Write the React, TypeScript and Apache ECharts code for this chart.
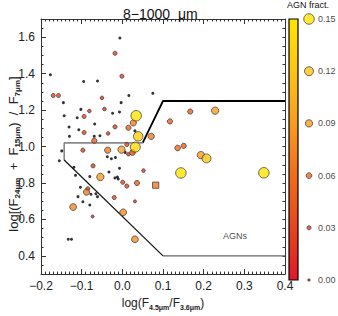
import React, { useEffect, useRef } from "react";
import * as echarts from "echarts";

const FONT = "'Liberation Sans', Arial, Helvetica, sans-serif";

// log(F4.5/F3.6), log((F24+F15)/F7) for sources with AGN fraction = 0
const noAgnPoints: [number, number][] = [
  [-0.177, 1.394], [-0.006, 1.596], [-0.095, 1.357], [-0.061, 1.36], [0.075, 1.292],
  [0.016, 1.28], [-0.145, 1.241], [-0.003, 1.241], [-0.102, 1.204], [-0.024, 1.183],
  [-0.007, 1.19], [-0.143, 1.169], [-0.111, 1.158], [-0.131, 1.107], [-0.068, 1.124],
  [-0.107, 1.092], [0.031, 1.086], [-0.13, 1.056], [-0.069, 1.056], [-0.055, 1.059],
  [-0.149, 0.976], [-0.037, 0.944], [-0.027, 0.933], [-0.017, 0.94], [0.007, 0.968],
  [-0.155, 0.922], [-0.119, 0.886], [-0.033, 0.86], [-0.007, 0.881], [-0.115, 0.842],
  [-0.08, 0.836], [-0.018, 0.828], [-0.012, 0.833], [-0.01, 0.822], [-0.103, 0.777],
  [-0.077, 0.738], [-0.065, 0.741], [-0.061, 0.725], [-0.109, 0.725], [-0.097, 0.697],
  [-0.08, 0.679], [-0.133, 0.491], [-0.125, 0.491],
];

// [x, y, AGN fraction]
const agnPoints: [number, number, number][] = [
  [-0.018, 1.512, 0.03], [-0.001, 1.386, 0.03], [-0.17, 1.28, 0.03], [-0.157, 1.28, 0.03],
  [-0.05, 1.267, 0.02], [-0.094, 1.165, 0.03], [-0.081, 1.195, 0.02], [-0.044, 1.206, 0.02],
  [-0.018, 1.108, 0.03], [-0.094, 1.077, 0.03], [-0.035, 1.072, 0.02], [0.011, 1.011, 0.03],
  [-0.097, 0.98, 0.03], [0.026, 0.973, 0.03], [0.015, 0.958, 0.02], [-0.072, 0.894, 0.03],
  [0.052, 0.868, 0.02], [0.001, 0.804, 0.03], [0.011, 0.783, 0.03], [-0.085, 0.768, 0.03],
  [-0.02, 0.72, 0.03], [0.031, 0.699, 0.01], [-0.073, 0.616, 0.01],
  [0.027, 1.13, 0.07], [0.015, 1.103, 0.05], [-0.069, 1.032, 0.05], [0.071, 1.056, 0.07],
  [0.117, 1.138, 0.05], [0.167, 1.192, 0.05], [0.228, 1.197, 0.09], [-0.036, 0.98, 0.07],
  [-0.002, 0.983, 0.09], [0.025, 0.967, 0.06], [0.136, 0.992, 0.06], [0.151, 1.004, 0.05],
  [0.193, 0.953, 0.09], [-0.054, 0.833, 0.09], [0.036, 0.8, 0.05], [-0.088, 0.75, 0.07],
  [-0.121, 0.668, 0.08], [0.002, 0.639, 0.08], [0.031, 0.491, 0.08],
  [0.034, 1.169, 0.15], [0.039, 1.056, 0.13], [0.032, 0.997, 0.14], [0.207, 0.935, 0.12],
  [0.144, 0.855, 0.15], [0.348, 0.856, 0.15],
];

const squarePoints: [number, number, number][] = [[0.082, 0.788, 0.07]];

const legendFractions = [0, 0.03, 0.06, 0.09, 0.12, 0.15];
const fractionColors = ["#e0182a", "#e8441e", "#f06c1c", "#f89c20", "#fcc414", "#ffe400"];

const agnWedge: [number, number][] = [[0.4, 1.25], [0.1, 1.25], [0.05, 1.02]];
const grayBox: [number, number][] = [[0.05, 1.02], [-0.143, 1.02], [-0.143, 0.926]];
const diagLine: [number, number][] = [[-0.143, 0.926], [0.1, 0.4]];
const bottomLine: [number, number][] = [[0.1, 0.4], [0.4, 0.4]];

const yLabelValues = [0.4, 0.6, 0.8, 1.0, 1.2, 1.4, 1.6];
const agnLabel: [number, number][] = [[0.277, 0.511]];

const fmt = (v: number) => (v < 0 ? "\u2212" + Math.abs(v).toFixed(1) : v.toFixed(1));

export default function App() {
  const ref = useRef<HTMLDivElement>(null);
  useEffect(() => {
    if (!ref.current) return;
    const chart = echarts.init(ref.current, undefined, { renderer: "svg" });
    const tickCommon = { lineStyle: { color: "#333", width: 1 } };
    const sorted = [...agnPoints].sort((a, b) => a[2] - b[2]);
    const richX = {
      n: { fontSize: 12, lineHeight: 16, color: "#222", fontFamily: FONT },
      s: { fontSize: 7, lineHeight: 8, verticalAlign: "bottom", color: "#222", fontFamily: FONT, fontWeight: "bold" },
    };
    const richY = {
      n: { fontSize: 13, lineHeight: 17, fill: "#222", color: "#222", fontFamily: FONT },
      s: { fontSize: 8, lineHeight: 8, verticalAlign: "bottom", fill: "#222", color: "#222", fontFamily: FONT, fontWeight: "bold" },
    };
    const option: any = {
      animation: false,
      backgroundColor: "#fff",
      textStyle: { fontFamily: FONT },
      title: {
        text: "8\u22121000  \u03bcm",
        left: 118,
        top: 2,
        textStyle: { fontFamily: FONT, fontSize: 14, fontWeight: "normal", color: "#111" },
      },
      grid: [
        { left: 41, right: 53, top: 19, bottom: 36 },
        { left: 300, width: 18, top: 19, height: 261 },
      ],
      visualMap: {
        type: "continuous",
        show: false,
        min: 0,
        max: 0.15,
        dimension: 2,
        seriesIndex: [5, 6, 7],
        inRange: { color: fractionColors, symbolSize: [2.5, 10.5] },
      },
      xAxis: [
        {
          gridIndex: 0, type: "value", min: -0.2, max: 0.4, interval: 0.1, position: "bottom",
          axisLine: { onZero: false, lineStyle: { color: "#333", width: 1 } },
          axisTick: { inside: true, length: 5, ...tickCommon },
          minorTick: { show: true, splitNumber: 10, length: 2.5, ...tickCommon },
          splitLine: { show: false },
          axisLabel: { formatter: fmt, fontSize: 12, color: "#222", margin: 6, fontFamily: FONT },
          name: "{n|log(F}{s|4.5\u03bcm}{n|/F}{s|3.6\u03bcm}{n|)}",
          nameLocation: "middle",
          nameGap: 19,
          nameTextStyle: { rich: richX },
        },
        {
          gridIndex: 0, type: "value", min: -0.2, max: 0.4, interval: 0.1, position: "top",
          axisLine: { onZero: false, lineStyle: { color: "#333", width: 1 } },
          axisTick: { inside: true, length: 5, ...tickCommon },
          minorTick: { show: true, splitNumber: 10, length: 2.5, ...tickCommon },
          splitLine: { show: false },
          axisLabel: { show: false },
        },
        { gridIndex: 1, type: "value", min: -1, max: 1, show: false },
      ],
      yAxis: [
        {
          gridIndex: 0, type: "value", min: 0.3, max: 1.7, position: "left",
          axisLine: { onZero: false, lineStyle: { color: "#333", width: 1 } },
          axisTick: { inside: true, length: 5, customValues: yLabelValues, ...tickCommon },
          splitLine: { show: false },
          axisLabel: { customValues: yLabelValues, formatter: fmt, fontSize: 12, color: "#222", margin: 6, fontFamily: FONT },
        },
        {
          gridIndex: 0, type: "value", min: 0.3, max: 1.7, interval: 0.05, position: "left",
          axisLine: { show: false, onZero: false },
          axisTick: { inside: true, length: 2.5, ...tickCommon },
          splitLine: { show: false },
          axisLabel: { show: false },
        },
        {
          gridIndex: 0, type: "value", min: 0.3, max: 1.7, interval: 0.05, position: "right",
          axisLine: { onZero: false, lineStyle: { color: "#333", width: 1 } },
          axisTick: { inside: true, length: 2.5, ...tickCommon },
          splitLine: { show: false },
          axisLabel: { show: false },
        },
        { gridIndex: 1, type: "value", min: 0, max: 0.15, show: false },
      ],
      series: [
        {
          type: "line", xAxisIndex: 0, yAxisIndex: 0, data: agnWedge, symbol: "none",
          lineStyle: { color: "#000", width: 1.8 }, z: 1,
        },
        {
          type: "line", xAxisIndex: 0, yAxisIndex: 0, data: grayBox, symbol: "none",
          lineStyle: { color: "#8a8a8a", width: 1.6 }, z: 1,
        },
        {
          type: "line", xAxisIndex: 0, yAxisIndex: 0, data: diagLine, symbol: "none",
          lineStyle: { color: "#111", width: 1.2 }, z: 1,
        },
        {
          type: "line", xAxisIndex: 0, yAxisIndex: 0, data: bottomLine, symbol: "none",
          lineStyle: { color: "#666", width: 1.2 }, z: 1,
        },
        {
          type: "scatter", xAxisIndex: 0, yAxisIndex: 0, data: noAgnPoints, symbolSize: 3,
          itemStyle: { color: "#000" }, z: 2,
        },
        {
          type: "scatter", xAxisIndex: 0, yAxisIndex: 0, data: sorted,
          itemStyle: { borderColor: "#333", borderWidth: 0.9 }, z: 3,
        },
        {
          type: "scatter", xAxisIndex: 0, yAxisIndex: 0, data: squarePoints, symbol: "rect",
          itemStyle: { borderColor: "#333", borderWidth: 0.9 }, z: 3,
        },
        {
          type: "scatter", xAxisIndex: 2, yAxisIndex: 3, clip: false,
          data: legendFractions.map((f) => [0, f, f]),
          itemStyle: { borderColor: "#333", borderWidth: 0.9 },
          label: {
            show: true, position: "inside", align: "left", offset: [9, 0],
            formatter: (p: any) => p.value[1].toFixed(2),
            fontSize: 9, color: "#111", fontFamily: FONT,
          },
        },
        {
          type: "scatter", xAxisIndex: 0, yAxisIndex: 0, data: agnLabel, symbolSize: 0,
          label: { show: true, position: "inside", formatter: "AGNs", fontSize: 9, color: "#111", fontFamily: FONT },
        },
      ],
      graphic: [
        {
          type: "rect",
          shape: { x: 289, y: 19, width: 9, height: 261 },
          style: {
            fill: new echarts.graphic.LinearGradient(0, 1, 0, 0,
              fractionColors.map((c, i) => ({ offset: i / (fractionColors.length - 1), color: c }))),
            stroke: "#000",
            lineWidth: 1.2,
          },
        },
        {
          type: "text", x: 287, y: 0,
          style: { text: "AGN fract.", fontSize: 9, fill: "#111", fontFamily: FONT },
        },
        {
          type: "text", x: 13, y: 154, rotation: Math.PI / 2,
          style: {
            text: "{n|log[(F}{s|24\u03bcm}{n|  +  F}{s|15\u03bcm}{n|)  /  F}{s|7\u03bcm}{n|]}",
            rich: richY,
            align: "center",
            verticalAlign: "middle",
            fill: "#222",
            fontFamily: FONT,
          },
        },
      ],
    };
    chart.setOption(option);
    return () => chart.dispose();
  }, []);
  return <div ref={ref} style={{ position: "fixed", left: 0, top: 0, width: 338, height: 316 }} />;
}
